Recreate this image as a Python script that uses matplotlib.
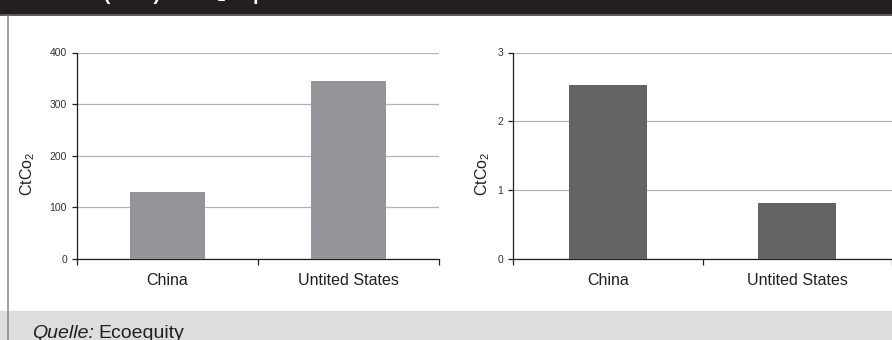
import matplotlib
matplotlib.use("Agg")
import matplotlib.pyplot as plt
from matplotlib.patches import Rectangle
from matplotlib.lines import Line2D

plt.rcParams['font.family'] = ['Liberation Sans', 'DejaVu Sans']
plt.rcParams['mathtext.fontset'] = 'custom'
plt.rcParams['mathtext.rm'] = 'Liberation Sans'
plt.rcParams['mathtext.it'] = 'Liberation Sans:italic'

# data
countries = ["China", "Untited States"]
left_values = [130, 344]
right_values = [2.53, 0.82]
left_ticks = [0, 100, 200, 300, 400]
right_ticks = [0, 1, 2, 3]
ylabel = "CtCo$_2$"
title = "Gesamt (2005) in CO₂-Äquivalent"

W, H = 892, 340
fig = plt.figure(figsize=(W / 100, H / 100), dpi=100)
fig.patch.set_facecolor("white")

# header band, footer band, left frame line
fig.patches.append(Rectangle((0, 1 - 14 / H), 1, 14 / H, transform=fig.transFigure,
                             color="#231f20", zorder=0))
fig.lines.append(Line2D([0, 1], [1 - 15 / H, 1 - 15 / H], transform=fig.transFigure,
                        color="#5a5a5a", lw=1.4))
fig.patches.append(Rectangle((0, 0), 1, 29 / H, transform=fig.transFigure,
                             color="#dcdddf", zorder=0))
fig.lines.append(Line2D([8 / W, 8 / W], [0, 1 - 16 / H], transform=fig.transFigure,
                        color="#8c8c8c", lw=1.2))

# title: only the descenders peek into the header band
fig.text(27 / W, 1.0, title, color="white", fontsize=14, fontweight="bold",
         ha="left", va="baseline")


def draw(ax, values, ticks, color):
    x = list(range(len(values)))
    ax.bar(x, values, width=0.41, color=color, zorder=3)
    ax.set_xlim(-0.5, len(values) - 0.5)
    ax.set_ylim(ticks[0], ticks[-1])
    ax.set_yticks(ticks)
    ax.yaxis.grid(True, color="#b5b5b5", lw=0.9)
    ax.set_axisbelow(True)
    for s in ["top", "right"]:
        ax.spines[s].set_visible(False)
    for s in ["left", "bottom"]:
        ax.spines[s].set_color("#231f20")
        ax.spines[s].set_linewidth(0.9)
    ax.set_xticks(x)
    ax.set_xticklabels(countries, fontsize=11.5, color="#231f20")
    ax.tick_params(axis="x", which="major", length=0, pad=10)
    ax.set_xticks([-0.5, 0.5, 1.5], minor=True)
    ax.tick_params(axis="x", which="minor", length=4, width=0.9, color="#231f20")
    ax.tick_params(axis="y", length=3.6, width=0.9, pad=3.6, labelsize=7.5,
                   color="#231f20", labelcolor="#333333")


ax1 = fig.add_axes([77 / W, 1 - 259 / H, 362 / W, 206.5 / H])
draw(ax1, left_values, left_ticks, "#939598")

ax2 = fig.add_axes([513 / W, 1 - 259 / H, 1 - 513 / W, 206.5 / H])
draw(ax2, right_values, right_ticks, "#636466")

for xc in [28, 483]:
    fig.text(xc / W, 1 - 174 / H, ylabel, rotation=90, ha="center", va="center",
             fontsize=11.5, color="#231f20")

# footer source line
t1 = fig.text(32 / W, 1.5 / H, "Quelle:", fontsize=14, style="italic",
              color="#231f20", ha="left", va="baseline")
fig.canvas.draw()
bb = t1.get_window_extent(renderer=fig.canvas.get_renderer())
fig.text(bb.x1 / W + 4 / W, 1.5 / H, "Ecoequity", fontsize=14, color="#231f20",
         ha="left", va="baseline")

plt.savefig("out.png", dpi=100)
